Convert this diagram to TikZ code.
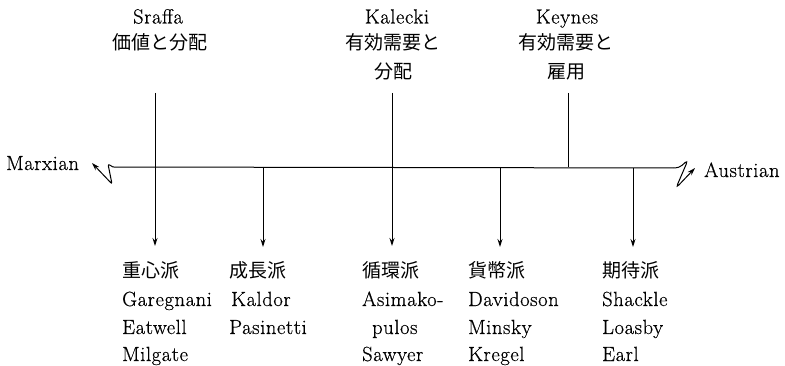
\documentclass[tikz,border=0pt]{standalone}
\usepackage{fontspec}
\setmainfont{Latin Modern Roman}[FakeBold=0.5, LetterSpace=3]
\newfontfamily\jp{Noto Sans CJK JP}
\usetikzlibrary{arrows.meta}
\begin{document}
\begin{tikzpicture}[x=1pt,y=-1pt,
  txt/.style={font=\fontsize{20.5}{28}\selectfont, inner sep=0pt},
  jtxt/.style={font=\fontsize{19}{28}\selectfont\jp, inner sep=0pt},
  ln/.style={line width=1pt},
  arr/.style={line width=1pt, -{Stealth[length=8pt,width=5pt]}}]
\useasboundingbox (0,0) rectangle (785,366);
% top labels
\node[txt,anchor=base] (sr1) at (158,23.5) {Sraffa};
\node[jtxt,anchor=base] (sr2) at (160,50) {価値と分配};
\node[txt,anchor=base] (ka1) at (397,23.5) {Kalecki};
\node[jtxt,anchor=base] (ka2) at (393,50) {有効需要と};
\node[jtxt,anchor=base] (ka3) at (393,79) {分配};
\node[txt,anchor=base] (ke1) at (567,23.5) {Keynes};
\node[jtxt,anchor=base] (ke2) at (566,50) {有効需要と};
\node[jtxt,anchor=base] (ke3) at (566,79) {雇用};
% ends
\node[txt,anchor=base west] (mx) at (6,170) {Marxian};
\node[txt,anchor=base west] (au) at (704,177) {Austrian};
% lower columns
\node[jtxt,anchor=base west] (c1a) at (122,278) {重心派};
\node[txt,anchor=base west] (c1b) at (122,306) {Garegnani};
\node[txt,anchor=base west] (c1c) at (122,334) {Eatwell};
\node[txt,anchor=base west] (c1d) at (122,361) {Milgate};
\node[jtxt,anchor=base west] (c2a) at (229,278) {成長派};
\node[txt,anchor=base west] (c2b) at (231,306) {Kaldor};
\node[txt,anchor=base west] (c2c) at (229,334) {Pasinetti};
\node[jtxt,anchor=base west] (c3a) at (362,278) {循環派};
\node[txt,anchor=base west] (c3b) at (362,306) {Asimako-};
\node[txt,anchor=base west] (c3c) at (372,334) {pulos};
\node[txt,anchor=base west] (c3d) at (362,361) {Sawyer};
\node[jtxt,anchor=base west] (c4a) at (468,278) {貨幣派};
\node[txt,anchor=base west] (c4b) at (468,306) {Davidoson};
\node[txt,anchor=base west] (c4c) at (468,334) {Minsky};
\node[txt,anchor=base west] (c4d) at (468,361) {Kregel};
\node[jtxt,anchor=base west] (c5a) at (602,278) {期待派};
\node[txt,anchor=base west] (c5b) at (602,306) {Shackle};
\node[txt,anchor=base west] (c5c) at (602,334) {Loasby};
\node[txt,anchor=base west] (c5d) at (602,361) {Earl};
% coordinates
\coordinate (L) at (113,167);
\coordinate (R) at (673,168);
\coordinate (tipL) at (92,163);
\coordinate (tipR) at (695,168);
\coordinate (s0) at (155,93);   \coordinate (s1) at (155,246);
\coordinate (g0) at (263,167);  \coordinate (g1) at (263,247);
\coordinate (k0) at (392,93);   \coordinate (k1) at (392,246);
\coordinate (y0) at (568,93);   \coordinate (y1) at (568,167);
\coordinate (m0) at (500,167);  \coordinate (m1) at (500,247);
\coordinate (e0) at (633,168);  \coordinate (e1) at (633,247);
% main line
\draw[ln] (L) -- (R);
\draw[arr, rounded corners=2pt] (L) -- (108,164) -- (112,184) -- (tipL);
\draw[arr, rounded corners=4pt] (R) -- (679,168) -- (688,160) -- (676,188) -- (tipR);
% arrows
\draw[arr] (s0) -- (s1);
\draw[arr] (g0) -- (g1);
\draw[arr] (k0) -- (k1);
\draw[ln] (y0) -- (y1);
\draw[arr] (m0) -- (m1);
\draw[arr] (e0) -- (e1);
\end{tikzpicture}
\end{document}
